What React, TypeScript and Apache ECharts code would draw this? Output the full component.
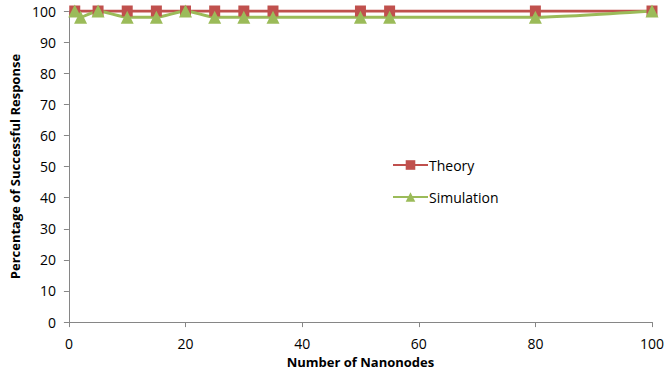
import React, { useEffect, useRef } from "react";
import * as echarts from "echarts";

const theoryX = [1, 5, 10, 15, 20, 25, 30, 35, 50, 55, 80, 100];
const theoryY = [100, 100, 100, 100, 100, 100, 100, 100, 100, 100, 100, 100];
const simX = [1, 2, 5, 10, 15, 20, 25, 30, 35, 50, 55, 80, 100];
const simY = [100, 98, 100, 98, 98, 100, 98, 98, 98, 98, 98, 98, 100];

const FONT = "'Open Sans', 'Noto Sans', sans-serif";

export default function App() {
  const ref = useRef<HTMLDivElement>(null);
  useEffect(() => {
    document.body.style.margin = "0";
    document.body.style.overflow = "hidden";
    if (!ref.current) return;
    const chart = echarts.init(ref.current, null, { renderer: "svg" });
    chart.setOption({
      animation: false,
      textStyle: { fontFamily: FONT },
      grid: { left: 67, right: 14, top: 11, bottom: 47 },
      legend: {
        orient: "vertical",
        left: 387,
        top: 153,
        itemGap: 18,
        itemWidth: 35,
        itemHeight: 12,
        textStyle: { fontSize: 14, color: "#000", fontFamily: FONT, padding: [0, 0, 0, -4] },
        data: ["Theory", "Simulation"],
      },
      xAxis: {
        type: "value",
        min: 0,
        max: 100,
        interval: 20,
        name: "Number of Nanonodes",
        nameLocation: "middle",
        nameGap: 28,
        nameTextStyle: { fontSize: 13, fontWeight: "bold", color: "#000", fontFamily: FONT },
        axisLine: { lineStyle: { color: "#868686", width: 1 } },
        axisTick: { show: true, length: 5, lineStyle: { color: "#868686" } },
        axisLabel: { fontSize: 14, color: "#000", margin: 14 },
        splitLine: { show: false },
      },
      yAxis: {
        type: "value",
        min: 0,
        max: 100,
        interval: 10,
        name: "Percentage of Successful Response",
        nameLocation: "middle",
        nameGap: 47,
        nameTextStyle: { fontSize: 13, fontWeight: "bold", color: "#000", fontFamily: FONT },
        axisLine: { show: true, lineStyle: { color: "#868686", width: 1 } },
        axisTick: { show: true, length: 5, lineStyle: { color: "#868686" } },
        axisLabel: { fontSize: 14, color: "#000", margin: 13 },
        splitLine: { show: false },
      },
      series: [
        {
          name: "Theory",
          type: "line",
          data: theoryX.map((x, i) => [x, theoryY[i]]),
          symbol: "rect",
          symbolSize: 11,
          itemStyle: { color: "#C0504D" },
          lineStyle: { color: "#C0504D", width: 3 },
        },
        {
          name: "Simulation",
          type: "line",
          data: simX.map((x, i) => [x, simY[i]]),
          symbol: "triangle",
          symbolSize: 13,
          smooth: 0.2,
          itemStyle: { color: "#9BBB59" },
          lineStyle: { color: "#9BBB59", width: 3 },
        },
      ],
    });
    return () => chart.dispose();
  }, []);
  return <div ref={ref} style={{ width: 667, height: 373 }} />;
}
